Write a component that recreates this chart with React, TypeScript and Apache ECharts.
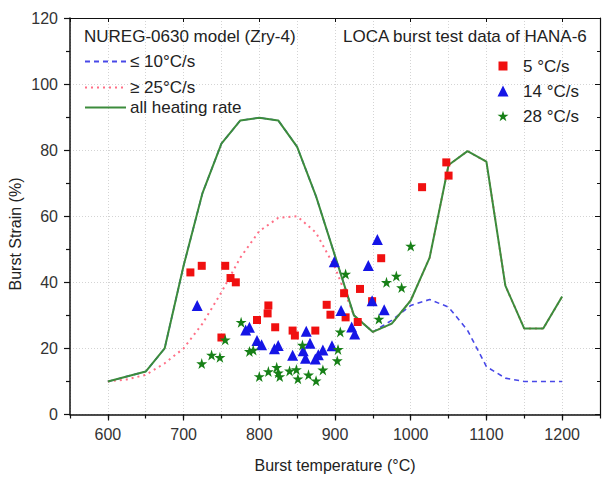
import React, { useEffect, useRef } from "react";
import * as echarts from "echarts";

// ---- data ----
const slowRateLine: [number, number][] = [
  [600, 10], [650, 13], [675, 20], [700, 45], [725, 67], [750, 82], [775, 89], [800, 89.8],
  [825, 89], [850, 81], [875, 66], [900, 48], [925, 30], [950, 25], [975, 28.5], [1000, 33],
  [1025, 34.8], [1050, 32.5], [1075, 25.5], [1100, 14.5], [1125, 11], [1150, 10], [1175, 10], [1200, 10],
];
const fastRateLine: [number, number][] = [
  [600, 10], [625, 10.6], [650, 12], [675, 15.5], [700, 20], [725, 27.5], [750, 37], [775, 47.5],
  [800, 55.5], [825, 59.5], [850, 60], [875, 55], [900, 44.5], [925, 30], [950, 25], [975, 27.5],
  [1000, 34.5], [1025, 47.5], [1050, 75.5], [1075, 79.7], [1100, 76.5], [1125, 39], [1150, 26], [1175, 26], [1200, 35.7],
];
const allRateLine: [number, number][] = [
  [600, 10], [650, 13], [675, 20], [700, 45], [725, 67], [750, 82], [775, 89], [800, 89.8],
  [825, 89], [850, 81], [875, 66], [900, 48], [925, 30], [950, 25], [975, 27.5], [1000, 34.5],
  [1025, 47.5], [1050, 75.5], [1075, 79.7], [1100, 76.5], [1125, 39], [1150, 26], [1175, 26], [1200, 35.7],
];
const rate5: [number, number][] = [
  [709, 43], [724, 45], [755, 45], [762, 41.3], [769, 40], [750, 23.3], [797, 28.6], [812, 33],
  [811, 30.6], [821, 26.4], [844, 25.4], [847, 23.9], [874, 25.4], [889, 33.2], [894, 30.2],
  [912, 36.7], [914, 29.4], [930, 28], [933, 38], [949, 34.3], [961, 47.3], [1015, 68.8],
  [1047, 76.3], [1050, 72.3],
];
const rate14: [number, number][] = [
  [718, 33], [782, 25.6], [787, 26.4], [797, 22.4], [803, 21.1], [820, 19.9], [825, 20.9],
  [844, 17.9], [858, 19.3], [861, 17], [862, 25.2], [867, 21.6], [874, 16.8], [878, 18.1],
  [884, 19.5], [896, 20.8], [899, 46.2], [908, 31.5], [922, 26.5], [926, 24.4], [944, 45.1],
  [949, 34.4], [956, 53], [965, 31.7],
];
const rate28: [number, number][] = [
  [724, 15.4], [737, 18], [748, 17.3], [755, 22.6], [776, 27.9], [787, 19.1], [792, 19.5],
  [800, 11.5], [812, 13], [823, 14.3], [825, 12.6], [827, 11.5], [840, 13.2], [849, 13.6],
  [851, 10.8], [857, 21], [865, 12], [875, 10.2], [884, 13.5], [903, 16.3], [904, 19.7],
  [907, 25], [914, 42.5], [958, 28.9], [968, 40], [981, 41.9], [988, 38.4], [1000, 51],
];
const modelTitle = "NUREG-0630 model (Zry-4)";
const dataTitle = "LOCA burst test data of HANA-6";
const lineNames = ["≤ 10°C/s", "≥ 25°C/s", "all heating rate"];
const pointNames = ["5 °C/s", "14 °C/s", "28 °C/s"];

const STAR = "path://M50,0 L61.2,34.5 L97.6,34.5 L68.2,55.9 L79.4,90.5 L50,69.1 L20.6,90.5 L31.8,55.9 L2.4,34.5 L38.8,34.5 Z";
const FONT = "Liberation Sans";

export default function App() {
  const ref = useRef<HTMLDivElement>(null);
  useEffect(() => {
    if (!ref.current) return;
    const chart = echarts.init(ref.current, null, { renderer: "svg" });
    const txt = { fontFamily: FONT, fontSize: 17, color: "#222" };
    const grid = { left: 70, right: 3, top: 18, bottom: 65.5 };
    const lineLegend = (name: string, top: number) => ({
      data: [name], left: 84, top, orient: "vertical", itemWidth: 41, itemHeight: 12,
      padding: 0, textStyle: { ...txt, padding: [0, 0, 0, -1] }, selectedMode: false,
      itemStyle: { opacity: 0 },
    });
    const pointLegend = (name: string, top: number, size: number) => ({
      data: [name], left: 503 - size / 2, top: top - size / 2, orient: "vertical",
      itemWidth: size, itemHeight: size, padding: 0,
      textStyle: { ...txt, padding: [0, 0, 0, 20 - size / 2 - 5], lineHeight: size }, selectedMode: false,
    });
    const plain = (v: number) => String(v);
    chart.setOption({
      animation: false,
      grid,
      title: [
        { text: modelTitle, left: 84, top: 28, padding: 0, textStyle: { ...txt, fontWeight: "normal" } },
        { text: dataTitle, left: 343, top: 28, padding: 0, textStyle: { ...txt, fontWeight: "normal" } },
      ],
      legend: [
        lineLegend(lineNames[0], 53),
        lineLegend(lineNames[1], 79),
        lineLegend(lineNames[2], 99),
        pointLegend(pointNames[0], 62, 9),
        pointLegend(pointNames[1], 88, 11),
        pointLegend(pointNames[2], 113, 11),
      ],
      xAxis: [
        {
          type: "value", min: 550, max: 1250, splitNumber: 7, position: "bottom",
          name: "Burst temperature (°C)", nameLocation: "middle", nameGap: 43,
          nameTextStyle: { fontFamily: FONT, fontSize: 16, color: "#222" },
          axisLine: { lineStyle: { color: "#111", width: 1.5 } },
          axisTick: { inside: false, length: 6, lineStyle: { color: "#111", width: 1.2 } },
          axisLabel: { showMinLabel: false, showMaxLabel: false, margin: 12, fontFamily: FONT, fontSize: 16, color: "#333", formatter: plain },
          splitLine: { show: false },
        },
        {
          type: "value", min: 550, max: 1250, interval: 50, position: "bottom",
          axisLine: { show: false },
          axisTick: { inside: false, length: 4, lineStyle: { color: "#111", width: 1.2 } },
          axisLabel: { show: false },
          splitLine: { show: true, lineStyle: { color: "#d4d4d4", type: [1, 2], width: 1 } },
        },
        {
          type: "value", min: 550, max: 1250, splitNumber: 7, position: "top",
          axisLine: { lineStyle: { color: "#111", width: 1.2 } },
          axisTick: { inside: true, length: 4, lineStyle: { color: "#111" } },
          axisLabel: { show: false },
          splitLine: { show: false },
        },
      ],
      yAxis: [
        {
          type: "value", min: 0, max: 120, interval: 20, position: "left",
          axisLine: { show: true, lineStyle: { color: "#111", width: 1.5 } },
          axisTick: { show: true, inside: false, length: 6, lineStyle: { color: "#111", width: 1.2 } },
          minorTick: { show: true, splitNumber: 2, length: 4, lineStyle: { color: "#111", width: 1.2 } },
          axisLabel: { margin: 12, fontFamily: FONT, fontSize: 16, color: "#333", formatter: plain },
          splitLine: { show: true, lineStyle: { color: "#d4d4d4", type: [1, 2], width: 1 } },
        },
        {
          type: "value", min: 0, max: 120, interval: 20, position: "right",
          axisLine: { show: true, lineStyle: { color: "#111", width: 1.2 } },
          axisTick: { show: true, inside: true, length: 5, lineStyle: { color: "#111" } },
          minorTick: { show: true, splitNumber: 2, length: 3, lineStyle: { color: "#111" } },
          axisLabel: { show: false },
          splitLine: { show: false },
        },
      ],
      graphic: [
        {
          type: "text", x: 15, y: 234, rotation: Math.PI / 2,
          style: { text: "Burst Strain (%)", fontFamily: FONT, fontSize: 16, fill: "#222", textAlign: "center", textVerticalAlign: "middle" },
        },
      ],
      series: [
        {
          name: lineNames[0], type: "line", data: slowRateLine, symbol: "none", z: 2,
          lineStyle: { color: "#4848e8", width: 1.6, type: [5, 4] }, itemStyle: { color: "#4848e8" },
        },
        {
          name: lineNames[1], type: "line", data: fastRateLine, symbol: "none", z: 2,
          lineStyle: { color: "#ff6f86", width: 2, type: [2, 4] }, itemStyle: { color: "#ff6f86" },
        },
        {
          name: lineNames[2], type: "line", data: allRateLine, symbol: "none", z: 3,
          lineStyle: { color: "#3c8c3c", width: 2 }, itemStyle: { color: "#3c8c3c" },
        },
        {
          name: pointNames[0], type: "scatter", data: rate5, symbol: "rect", symbolSize: 8, z: 4,
          itemStyle: { color: "#f01010", opacity: 1 },
        },
        {
          name: pointNames[1], type: "scatter", data: rate14, symbol: "triangle", symbolSize: 11, z: 5,
          itemStyle: { color: "#1515e6", opacity: 1 },
        },
        {
          name: pointNames[2], type: "scatter", data: rate28, symbol: STAR, symbolSize: 11, z: 6,
          itemStyle: { color: "#178017", opacity: 1 },
        },
      ],
    });
    return () => chart.dispose();
  }, []);
  return <div ref={ref} style={{ width: 603, height: 480, position: "absolute", left: 0, top: 0, background: "#fff" }} />;
}
